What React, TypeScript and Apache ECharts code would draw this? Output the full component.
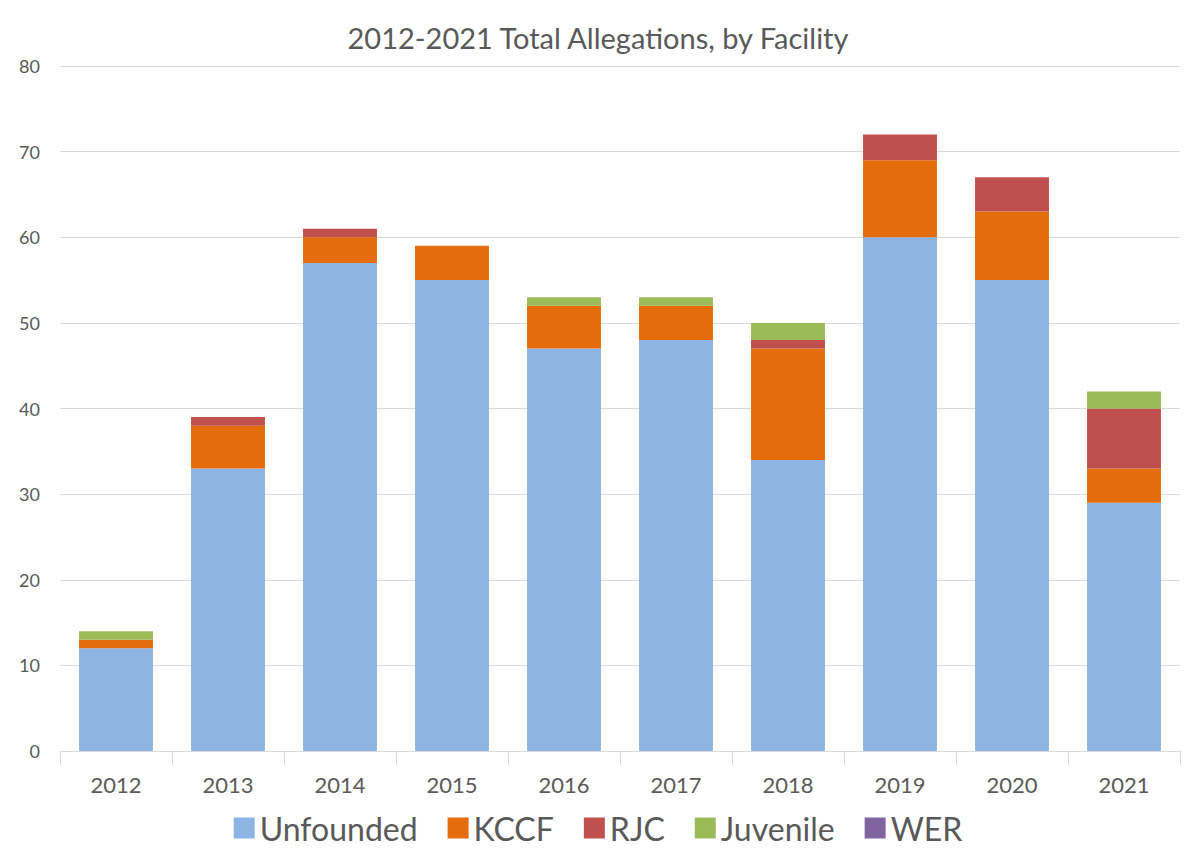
import React, { useEffect, useRef } from "react";
import * as echarts from "echarts";

const years = ["2012", "2013", "2014", "2015", "2016", "2017", "2018", "2019", "2020", "2021"];
const unfounded = [12, 33, 57, 55, 47, 48, 34, 60, 55, 29];
const kccf = [1, 5, 3, 4, 5, 4, 13, 9, 8, 4];
const rjc = [0, 1, 1, 0, 0, 0, 1, 3, 4, 7];
const juvenile = [1, 0, 0, 0, 1, 1, 2, 0, 0, 2];
const wer = [0, 0, 0, 0, 0, 0, 0, 0, 0, 0];
const yTicks = [0, 10, 20, 30, 40, 50, 60, 70, 80];

const FONT = "Lato, 'Open Sans', sans-serif";

export default function App() {
  const ref = useRef<HTMLDivElement>(null);
  useEffect(() => {
    if (!ref.current) return;
    const chart = echarts.init(ref.current, null, { renderer: "svg" });
    const mk = (name: string, data: number[], color: string) => ({
      name,
      type: "bar",
      stack: "total",
      data,
      barWidth: "66%",
      itemStyle: { color },
    });
    chart.setOption({
      animation: false,
      backgroundColor: "#ffffff",
      title: {
        text: "2012-2021 Total Allegations, by Facility",
        left: "center",
        top: 18,
        textStyle: { fontFamily: FONT, fontSize: 29, fontWeight: "normal", color: "#595959" },
      },
      legend: {
        bottom: 14,
        left: "center",
        itemWidth: 21,
        itemHeight: 21,
        itemGap: 30,
        icon: "rect",
        textStyle: { fontFamily: FONT, fontSize: 32, color: "#595959" },
        data: ["Unfounded", "KCCF", "RJC", "Juvenile", "WER"],
      },
      grid: { left: 60, right: 16, top: 66, bottom: 112, containLabel: false },
      xAxis: {
        type: "category",
        data: years,
        axisLine: { lineStyle: { color: "#d9d9d9" } },
        axisTick: { show: true, length: 14, lineStyle: { color: "#d9d9d9" } },
        axisLabel: { fontFamily: FONT, fontSize: 22, color: "#595959", margin: 22 },
      },
      yAxis: {
        type: "value",
        min: yTicks[0],
        max: yTicks[yTicks.length - 1],
        interval: 10,
        axisLine: { show: false },
        axisTick: { show: false },
        splitLine: { lineStyle: { color: "#d9d9d9" } },
        axisLabel: { fontFamily: FONT, fontSize: 18, color: "#595959", margin: 20 },
      },
      series: [
        mk("Unfounded", unfounded, "#8EB4E3"),
        mk("KCCF", kccf, "#E46C0A"),
        mk("RJC", rjc, "#C0504D"),
        mk("Juvenile", juvenile, "#9BBB59"),
        mk("WER", wer, "#8064A2"),
      ],
    });
    return () => chart.dispose();
  }, []);
  return (
    <div
      ref={ref}
      style={{ position: "absolute", left: 0, top: 0, width: 1196, height: 863 }}
    />
  );
}
